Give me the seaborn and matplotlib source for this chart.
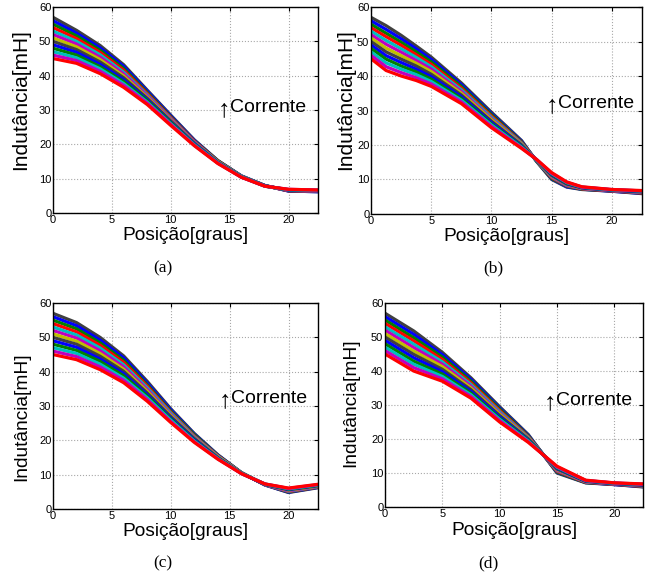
import numpy as np
import pandas as pd
import matplotlib
matplotlib.use("Agg")
import matplotlib.pyplot as plt
import seaborn as sns

# ---------------- data ----------------
# (a) smooth fit
pos_a = [0, 2, 4, 6, 8, 10, 12, 14, 16, 18, 20, 22.5]
L_a = [
    [57.0, 53.2, 48.8, 43.2, 35.8, 28.5, 21.3, 15.3, 10.8, 8.0, 6.4, 6.2],
    [56.0, 52.4, 48.1, 42.7, 35.5, 28.3, 21.2, 15.2, 10.8, 8.0, 6.4, 6.2],
    [55.0, 51.6, 47.4, 42.1, 35.1, 28.0, 21.0, 15.2, 10.7, 8.0, 6.5, 6.3],
    [54.0, 50.8, 46.8, 41.6, 34.8, 27.8, 20.9, 15.1, 10.7, 7.9, 6.5, 6.3],
    [53.0, 50.0, 46.1, 41.0, 34.4, 27.5, 20.7, 15.0, 10.7, 7.9, 6.6, 6.4],
    [52.0, 49.2, 45.4, 40.5, 34.1, 27.3, 20.6, 14.9, 10.6, 7.9, 6.6, 6.4],
    [51.0, 48.4, 44.7, 39.9, 33.7, 27.0, 20.4, 14.9, 10.6, 7.9, 6.7, 6.5],
    [50.0, 47.6, 44.0, 39.4, 33.4, 26.8, 20.3, 14.8, 10.6, 7.9, 6.7, 6.5],
    [49.0, 46.8, 43.3, 38.8, 33.0, 26.5, 20.2, 14.7, 10.5, 7.9, 6.7, 6.5],
    [48.0, 46.0, 42.6, 38.3, 32.7, 26.3, 20.0, 14.6, 10.5, 7.8, 6.8, 6.6],
    [47.0, 45.2, 42.0, 37.7, 32.3, 26.0, 19.9, 14.6, 10.5, 7.8, 6.8, 6.6],
    [46.0, 44.4, 41.3, 37.2, 32.0, 25.8, 19.7, 14.5, 10.4, 7.8, 6.9, 6.7],
    [45.0, 43.6, 40.6, 36.6, 31.6, 25.5, 19.6, 14.4, 10.4, 7.8, 6.9, 6.7],
]

# (b) spline
pos_b = [0, 1.25, 2.5, 3.75, 5, 7.5, 10, 12.5, 13.75, 15, 16.25, 17.5, 20, 22.5]
L_b = [
    [57.0, 54.6, 51.8, 48.7, 45.5, 38.0, 29.5, 21.3, 15.2, 10.0, 7.8, 7.1, 6.6, 5.9],
    [56.0, 53.5, 50.8, 47.9, 44.8, 37.5, 29.1, 21.1, 15.3, 10.2, 7.9, 7.2, 6.6, 6.0],
    [55.0, 52.4, 49.8, 47.0, 44.1, 37.0, 28.8, 20.9, 15.3, 10.3, 8.1, 7.2, 6.7, 6.1],
    [54.0, 51.4, 48.9, 46.2, 43.4, 36.5, 28.4, 20.7, 15.4, 10.5, 8.2, 7.3, 6.7, 6.1],
    [53.0, 50.3, 47.9, 45.4, 42.7, 36.0, 28.0, 20.5, 15.4, 10.7, 8.3, 7.4, 6.8, 6.2],
    [52.0, 49.2, 46.9, 44.5, 42.0, 35.5, 27.6, 20.3, 15.5, 10.8, 8.4, 7.4, 6.8, 6.3],
    [51.0, 48.1, 45.9, 43.7, 41.3, 35.0, 27.3, 20.2, 15.5, 11.0, 8.6, 7.5, 6.9, 6.4],
    [50.0, 47.0, 44.9, 42.9, 40.5, 34.5, 26.9, 20.0, 15.6, 11.2, 8.7, 7.6, 6.9, 6.4],
    [49.0, 45.9, 43.9, 42.0, 39.8, 34.0, 26.5, 19.8, 15.6, 11.3, 8.8, 7.6, 6.9, 6.5],
    [48.0, 44.9, 42.9, 41.2, 39.1, 33.5, 26.1, 19.6, 15.7, 11.5, 8.9, 7.7, 7.0, 6.6],
    [47.0, 43.8, 42.0, 40.4, 38.4, 33.0, 25.8, 19.4, 15.7, 11.7, 9.1, 7.8, 7.0, 6.7],
    [46.0, 42.7, 41.0, 39.5, 37.7, 32.5, 25.4, 19.2, 15.8, 11.8, 9.2, 7.8, 7.1, 6.7],
    [45.0, 41.6, 40.0, 38.7, 37.0, 32.0, 25.0, 19.0, 15.8, 12.0, 9.3, 7.9, 7.1, 6.8],
]

# (c) polynomial fit
pos_c = [0, 2, 4, 6, 8, 10, 12, 14, 16, 18, 20, 22.5]
L_c = [
    [57.0, 54.3, 50.0, 44.6, 37.2, 29.2, 22.0, 15.8, 10.6, 7.0, 4.8, 6.2],
    [56.0, 53.4, 49.2, 44.0, 36.7, 28.9, 21.8, 15.7, 10.6, 7.0, 4.9, 6.3],
    [55.0, 52.5, 48.4, 43.3, 36.2, 28.5, 21.6, 15.6, 10.6, 7.1, 5.0, 6.4],
    [54.0, 51.6, 47.7, 42.7, 35.8, 28.2, 21.3, 15.5, 10.5, 7.1, 5.1, 6.4],
    [53.0, 50.7, 46.9, 42.0, 35.3, 27.9, 21.1, 15.4, 10.5, 7.1, 5.2, 6.5],
    [52.0, 49.8, 46.1, 41.4, 34.8, 27.5, 20.9, 15.3, 10.5, 7.1, 5.3, 6.6],
    [51.0, 48.9, 45.3, 40.7, 34.3, 27.2, 20.7, 15.2, 10.5, 7.2, 5.5, 6.7],
    [50.0, 48.0, 44.5, 40.1, 33.8, 26.9, 20.5, 15.0, 10.4, 7.2, 5.6, 6.8],
    [49.0, 47.1, 43.7, 39.4, 33.3, 26.5, 20.3, 14.9, 10.4, 7.2, 5.7, 6.9],
    [48.0, 46.2, 43.0, 38.8, 32.9, 26.2, 20.0, 14.8, 10.4, 7.2, 5.8, 6.9],
    [47.0, 45.3, 42.2, 38.1, 32.4, 25.9, 19.8, 14.7, 10.4, 7.3, 5.9, 7.0],
    [46.0, 44.4, 41.4, 37.5, 31.9, 25.5, 19.6, 14.6, 10.3, 7.3, 6.0, 7.1],
    [45.0, 43.5, 40.6, 36.8, 31.4, 25.2, 19.4, 14.5, 10.3, 7.3, 6.1, 7.2],
]

# (d) linear
pos_d = [0, 2.5, 5, 7.5, 10, 12.5, 15, 17.5, 20, 22.5]
L_d = [
    [57.0, 51.8, 45.5, 38.0, 29.5, 21.3, 10.0, 7.1, 6.6, 5.9],
    [56.0, 50.8, 44.8, 37.5, 29.1, 21.1, 10.2, 7.2, 6.6, 6.0],
    [55.0, 49.8, 44.1, 37.0, 28.8, 20.9, 10.3, 7.2, 6.7, 6.1],
    [54.0, 48.9, 43.4, 36.5, 28.4, 20.7, 10.5, 7.3, 6.7, 6.1],
    [53.0, 47.9, 42.7, 36.0, 28.0, 20.5, 10.7, 7.4, 6.8, 6.2],
    [52.0, 46.9, 42.0, 35.5, 27.6, 20.3, 10.8, 7.4, 6.8, 6.3],
    [51.0, 45.9, 41.3, 35.0, 27.3, 20.2, 11.0, 7.5, 6.9, 6.4],
    [50.0, 44.9, 40.5, 34.5, 26.9, 20.0, 11.2, 7.6, 6.9, 6.4],
    [49.0, 43.9, 39.8, 34.0, 26.5, 19.8, 11.3, 7.6, 6.9, 6.5],
    [48.0, 42.9, 39.1, 33.5, 26.1, 19.6, 11.5, 7.7, 7.0, 6.6],
    [47.0, 42.0, 38.4, 33.0, 25.8, 19.4, 11.7, 7.8, 7.0, 6.7],
    [46.0, 41.0, 37.7, 32.5, 25.4, 19.2, 11.8, 7.8, 7.1, 6.7],
    [45.0, 40.0, 37.0, 32.0, 25.0, 19.0, 12.0, 7.9, 7.1, 6.8],
]

x_ticks = [0, 5, 10, 15, 20]
y_ticks = [0, 10, 20, 30, 40, 50, 60]
captions = ["(a)", "(b)", "(c)", "(d)"]
xlabel_text = "Posição[graus]"
ylabel_text = "Indutância[mH]"
arrow_text = "↑"
annot_text = "Corrente"

# ---------------- style ----------------
sns.set_theme(style="white")
plt.rcParams["font.family"] = ["Liberation Sans", "DejaVu Sans"]

# MATLAB-like colours: top curve dark, bottom curve red
K = (0.25, 0.25, 0.25)
B = (0, 0, 1)
G = (0, 0.5, 0)
R = (1, 0, 0)
C = (0, 0.75, 0.75)
M = (0.75, 0, 0.75)
Y = (0.75, 0.75, 0)
curve_colors = [K, B, G, R, C, M, Y, K, B, G, C, M, R]

fig = plt.figure(figsize=(6.51, 5.85), dpi=100)

panels = [
    # pos, curves, axes rect, ylabel x, ylabel y, xlabel y, ylabel size, annot pos, caption pos
    (pos_a, L_a, [0.0814, 0.6359, 0.4070, 0.3521], -0.085, 0.55, -0.068, 15.0, (15.0, 29.4), (163, 268)),
    (pos_b, L_b, [0.5699, 0.6342, 0.4163, 0.3538], -0.058, 0.555, -0.066, 15.0, (15.5, 30.7), (493, 268)),
    (pos_c, L_c, [0.0814, 0.1299, 0.4070, 0.3521], -0.085, 0.45, -0.066, 13.8, (15.1, 30.9), (163, 563)),
    (pos_d, L_d, [0.5914, 0.1333, 0.3963, 0.3487], -0.100, 0.51, -0.072, 13.8, (14.9, 30.0), (488, 563)),
]

for i, (pos, curves, rect, ylx, yly, xly, ysize, apos, cpos) in enumerate(panels):
    ax = fig.add_axes(rect)
    rows = []
    for k, vals in enumerate(curves):
        for p, v in zip(pos, vals):
            rows.append({"pos": p, "L": v, "curve": k})
    df = pd.DataFrame(rows)
    sns.lineplot(data=df, x="pos", y="L", hue="curve", palette=curve_colors[:len(curves)],
                 legend=False, linewidth=2.3, estimator=None, sort=False, ax=ax)
    ax.set_xlim(0, 22.5)
    ax.set_ylim(0, 60)
    ax.set_xticks(x_ticks)
    ax.set_yticks(y_ticks)
    ax.grid(True, linestyle=":", color="#a8a8a8", linewidth=0.8)
    ax.set_axisbelow(True)
    for sp in ax.spines.values():
        sp.set_color("black")
        sp.set_linewidth(1.0)
        sp.set_visible(True)
    ax.tick_params(direction="in", length=3, width=0.8, top=True, right=True,
                   labelsize=8, pad=1.2, colors="black")
    ax.set_xlabel(xlabel_text, fontsize=13.8, color="black")
    ax.set_ylabel(ylabel_text, fontsize=ysize, color="black")
    ax.yaxis.set_label_coords(ylx, yly)
    ax.xaxis.set_label_coords(0.5, xly)
    ax.text(apos[0], apos[1], annot_text, fontsize=14, color="black",
            ha="left", va="baseline")
    ax.annotate(arrow_text, xy=(apos[0], apos[1]), xytext=(0.3, -3.0),
                textcoords="offset points", fontsize=18, color="black",
                ha="right", va="baseline", family=["Liberation Sans", "DejaVu Sans"])
    fig.text(cpos[0] / 651, 1 - cpos[1] / 585, captions[i], fontsize=12.5,
             family=["Liberation Serif", "DejaVu Serif"], ha="center", va="center",
             color="black")

fig.savefig("out.png", dpi=100)
